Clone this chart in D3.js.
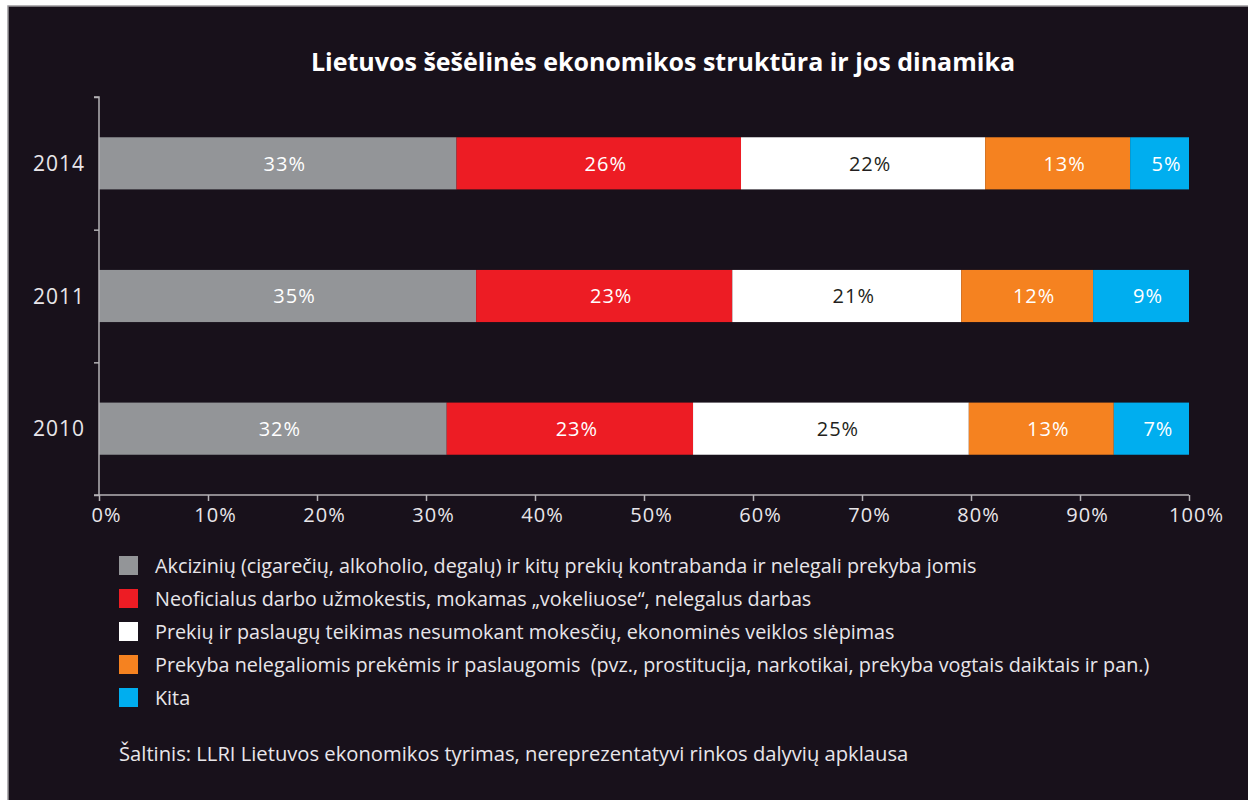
<!DOCTYPE html>
<html>
<head>
<meta charset="utf-8">
<script src="https://cdn.jsdelivr.net/npm/d3@7"></script>
<style>
  html, body { margin: 0; padding: 0; background: #ffffff; }
  svg { display: block; }
  text { font-family: "Open Sans", "Noto Sans", sans-serif; white-space: pre; }
</style>
</head>
<body>
<svg id="chart" width="1248" height="800"></svg>
<script>
// ---- data ----
const years = ["2014", "2011", "2010"];
const seriesNames = [
  "Akcizinių (cigarečių, alkoholio, degalų) ir kitų prekių kontrabanda ir nelegali prekyba jomis",
  "Neoficialus darbo užmokestis, mokamas „vokeliuose“, nelegalus darbas",
  "Prekių ir paslaugų teikimas nesumokant mokesčių, ekonominės veiklos slėpimas",
  "Prekyba nelegaliomis prekėmis ir paslaugomis  (pvz., prostitucija, narkotikai, prekyba vogtais daiktais ir pan.)",
  "Kita"
];
const akcizines = [32.8, 34.6, 31.9];
const neoficialus = [26.1, 23.5, 22.6];
const nesumokant = [22.4, 21.0, 25.3];
const nelegalios = [13.3, 12.1, 13.3];
const kita = [5.4, 8.8, 6.9];
const labelAkcizines = ["33%", "35%", "32%"];
const labelNeoficialus = ["26%", "23%", "23%"];
const labelNesumokant = ["22%", "21%", "25%"];
const labelNelegalios = ["13%", "12%", "13%"];
const labelKita = ["5%", "9%", "7%"];
const xTicks = [0, 10, 20, 30, 40, 50, 60, 70, 80, 90, 100];
const title = "Lietuvos šešėlinės ekonomikos struktūra ir jos dinamika";
const source = "Šaltinis: LLRI Lietuvos ekonomikos tyrimas, nereprezentatyvi rinkos dalyvių apklausa";

const colors = ["#939598", "#ed1c24", "#ffffff", "#f58220", "#00aeef"];
const textColors = ["#ffffff", "#ffffff", "#231f20", "#ffffff", "#ffffff"];

const seriesValues = [akcizines, neoficialus, nesumokant, nelegalios, kita];
const seriesLabels = [labelAkcizines, labelNeoficialus, labelNesumokant, labelNelegalios, labelKita];

const rows = years.map((yr, i) => {
  const r = { year: yr };
  seriesValues.forEach((s, k) => { r["s" + k] = s[i]; });
  return r;
});
const keys = seriesValues.map((_, k) => "s" + k);
const stacked = d3.stack().keys(keys)(rows);

// ---- layout ----
const svg = d3.select("#chart");
svg.append("rect").attr("x", 8).attr("y", 6).attr("width", 1250).attr("height", 800)
  .attr("fill", "#18111b").attr("stroke", "#9a989c").attr("stroke-width", 1.5);

const mLeft = 99, mRight = 1189, mTop = 97, mBottom = 495;
const x = d3.scaleLinear().domain([0, 100]).range([mLeft, mRight]);
const y = d3.scaleBand().domain(years).range([mTop, mBottom]).paddingInner(0.607).paddingOuter(0.3035);
const yEdge = d3.scaleLinear().domain([0, years.length]).range([mTop, mBottom]);

svg.append("text").attr("x", 663).attr("y", 71).attr("text-anchor", "middle")
  .attr("fill", "#ffffff").attr("font-size", 25).attr("font-weight", 700).text(title);

// bars
const layer = svg.append("g").selectAll("g").data(stacked).join("g")
  .attr("fill", (d, k) => colors[k]);
layer.selectAll("rect").data(d => d).join("rect")
  .attr("x", d => x(d[0])).attr("width", d => x(d[1]) - x(d[0]))
  .attr("y", d => y(d.data.year)).attr("height", y.bandwidth());

svg.append("g").selectAll("g").data(stacked).join("g")
  .each(function(s, k) {
    d3.select(this).selectAll("text").data(s).join("text")
      .attr("x", d => (x(d[0]) + x(d[1])) / 2)
      .attr("y", d => y(d.data.year) + y.bandwidth() / 2)
      .attr("dx", 7)
      .attr("dy", "0.36em")
      .attr("text-anchor", "middle")
      .attr("font-size", 20)
      .attr("letter-spacing", 1)
      .attr("fill", textColors[k])
      .text((d, i) => seriesLabels[k][i]);
  });

// axes
const axisColor = "#b4b2b6";
const yAxisG = svg.append("g").attr("transform", `translate(${mLeft},0)`)
  .call(d3.axisLeft(yEdge).tickValues(d3.range(0, years.length + 1)).tickSize(5).tickFormat(""));
yAxisG.selectAll("line, path").attr("stroke", axisColor).attr("stroke-width", 1.5);
yAxisG.select(".domain").attr("d", `M-5,${mTop}H0V${mBottom}`);

svg.append("g").selectAll("text").data(years).join("text")
  .attr("x", mLeft - 14).attr("y", d => y(d) + y.bandwidth() / 2).attr("dy", "0.36em")
  .attr("text-anchor", "end").attr("font-size", 21).attr("letter-spacing", 1)
  .attr("fill", "#e8e6ea").text(d => d);

const xAxisG = svg.append("g").attr("transform", `translate(0,${mBottom})`)
  .call(d3.axisBottom(x).tickValues(xTicks).tickSize(6).tickSizeOuter(0).tickFormat(d => d + "%"));
xAxisG.selectAll("line, path").attr("stroke", axisColor).attr("stroke-width", 1.5);
xAxisG.select(".domain").attr("d", `M${mLeft - 5},0H${mRight}`);
xAxisG.selectAll("text").attr("fill", "#e8e6ea").attr("font-size", 20)
  .attr("letter-spacing", 1)
  .attr("font-family", "'Open Sans', sans-serif").attr("dx", 7).attr("dy", "0.9em");

// legend
const leg = svg.append("g").selectAll("g").data(seriesNames).join("g")
  .attr("transform", (d, i) => `translate(119,${556 + i * 33})`);
leg.append("rect").attr("width", 19).attr("height", 19).attr("fill", (d, i) => colors[i]);
leg.append("text").attr("x", 36).attr("y", 10).attr("dy", "0.36em")
  .attr("font-size", 19.8).attr("fill", "#e8e6ea").text(d => d);

svg.append("text").attr("x", 119).attr("y", 754).attr("dy", "0.36em")
  .attr("font-size", 20.2).attr("fill", "#e8e6ea").text(source);
</script>
</body>
</html>
